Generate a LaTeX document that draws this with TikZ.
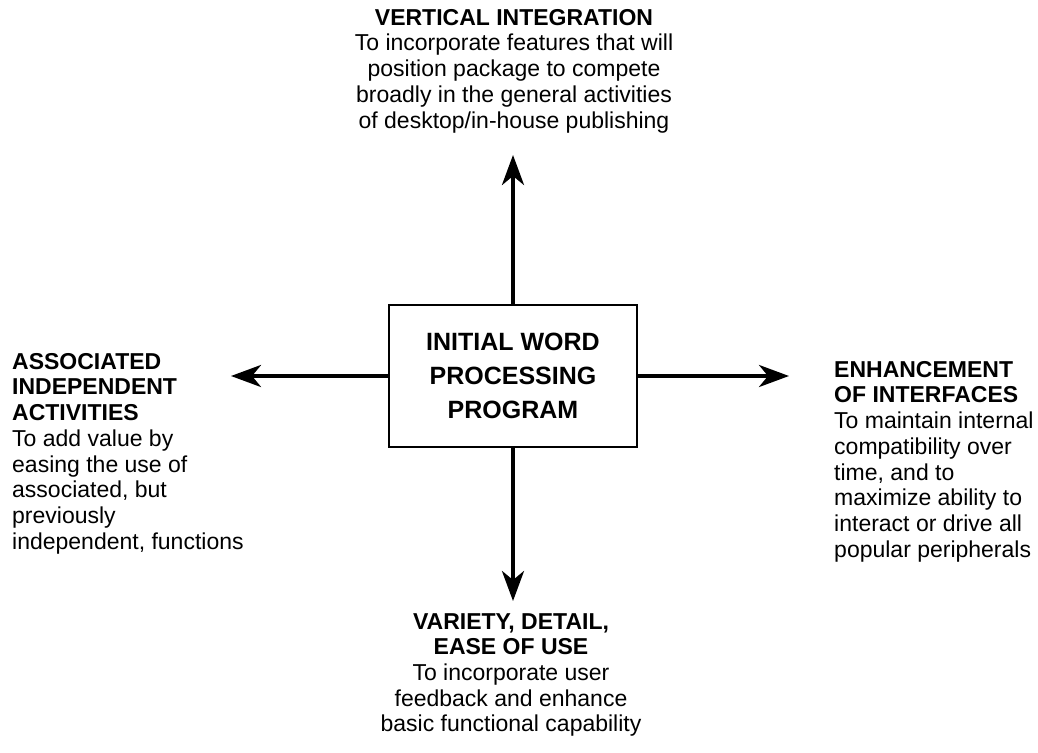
\documentclass[tikz,border=0pt]{standalone}
\usepackage{fontspec}
\setmainfont{Liberation Sans}
\usetikzlibrary{arrows.meta}
\begin{document}
\begin{tikzpicture}[x=1pt,y=-1pt,
  lbl/.style={inner sep=0pt,font=\fontsize{23}{25.7}\selectfont},
  ctr/.style={lbl,align=center},
  lft/.style={lbl,align=left},
  arr/.style={line width=4pt,-{Stealth[length=30pt,width=22pt,inset=9pt]}},
  boxst/.style={draw,line width=2.2pt,minimum width=248pt,minimum height=142pt,align=center,
    font=\bfseries\fontsize{25}{34}\selectfont}]
\useasboundingbox (0,0) rectangle (1038,752);
\node[boxst] (box) at (513,376) {INITIAL WORD\\PROCESSING\\PROGRAM};
\coordinate (tN) at (513,155);
\coordinate (tS) at (513,601);
\coordinate (tW) at (231,376);
\coordinate (tE) at (789,376);
\draw[arr] (box.north) -- (tN);
\draw[arr] (box.south) -- (tS);
\draw[arr] (box.west) -- (tW);
\draw[arr] (box.east) -- (tE);
\node[ctr,anchor=north] (top) at (514,9) {\textbf{VERTICAL INTEGRATION}\\To incorporate features that will\\position package to compete\\broadly in the general activities\\of desktop/in-house publishing};
\node[ctr,anchor=north] (bot) at (511,613) {\textbf{VARIETY, DETAIL,}\\\textbf{EASE OF USE}\\To incorporate user\\feedback and enhance\\basic functional capability};
\node[lft,anchor=north west] (left) at (12,353) {\textbf{ASSOCIATED}\\\textbf{INDEPENDENT}\\\textbf{ACTIVITIES}\\To add value by\\easing the use of\\associated, but\\previously\\independent, functions};
\node[lft,anchor=north west] (right) at (834,361) {\textbf{ENHANCEMENT}\\\textbf{OF INTERFACES}\\To maintain internal\\compatibility over\\time, and to\\maximize ability to\\interact or drive all\\popular peripherals};
\end{tikzpicture}
\end{document}
